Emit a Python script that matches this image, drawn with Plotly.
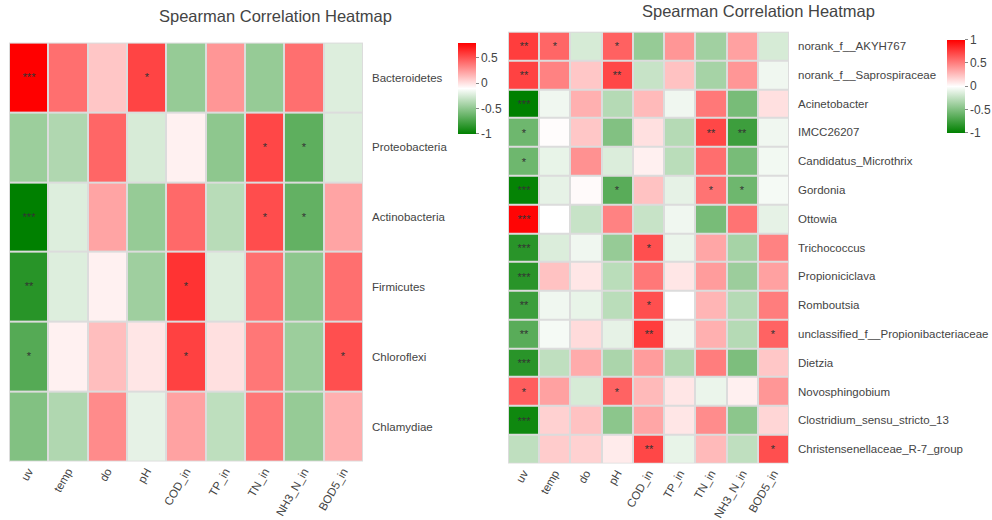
import plotly.graph_objects as go

# ---------------- data ----------------
factors = ["uv", "temp", "do", "pH", "COD_in", "TP_in", "TN_in", "NH3_N_in", "BOD5_in"]

phyla = ["Bacteroidetes", "Proteobacteria", "Actinobacteria", "Firmicutes", "Chloroflexi", "Chlamydiae"]
phyla_r = [
    [0.80, 0.41, 0.10, 0.56, -0.47, 0.27, -0.47, 0.41, -0.22],
    [-0.45, -0.38, 0.44, -0.24, -0.05, -0.50, 0.55, -0.67, -0.22],
    [-1.00, -0.22, 0.22, -0.47, 0.43, -0.35, 0.53, -0.65, 0.22],
    [-0.86, -0.22, -0.05, -0.44, 0.62, -0.22, 0.41, -0.50, 0.41],
    [-0.70, -0.05, 0.13, -0.01, 0.57, 0.01, 0.38, -0.45, 0.52],
    [-0.54, -0.38, 0.31, -0.19, 0.23, -0.33, 0.38, -0.47, 0.18],
]
phyla_sig = [
    ["***", "", "", "*", "", "", "", "", ""],
    ["", "", "", "", "", "", "*", "*", ""],
    ["***", "", "", "", "", "", "*", "*", ""],
    ["**", "", "", "", "*", "", "", "", ""],
    ["*", "", "", "", "*", "", "", "", "*"],
    ["", "", "", "", "", "", "", "", ""],
]

genera = ["norank_f__AKYH767", "norank_f__Saprospiraceae", "Acinetobacter", "IMCC26207",
          "Candidatus_Microthrix", "Gordonia", "Ottowia", "Trichococcus", "Propioniciclava",
          "Romboutsia", "unclassified_f__Propionibacteriaceae", "Dietzia", "Novosphingobium",
          "Clostridium_sensu_stricto_13", "Christensenellaceae_R-7_group"]
genera_r = [
    [0.76, 0.60, -0.16, 0.62, -0.41, 0.41, -0.37, 0.37, -0.16],
    [0.74, 0.49, 0.22, 0.72, -0.22, 0.24, -0.35, 0.41, -0.06],
    [-1.00, -0.06, 0.31, -0.29, 0.27, -0.06, 0.53, -0.53, 0.12],
    [-0.57, 0.01, 0.22, -0.49, 0.12, -0.29, 0.72, -0.76, -0.06],
    [-0.57, -0.09, 0.43, -0.14, 0.06, -0.27, 0.57, -0.53, -0.05],
    [-0.98, -0.10, 0.02, -0.65, 0.24, -0.10, 0.55, -0.57, -0.04],
    [0.98, 0.00, -0.22, 0.49, -0.22, -0.06, -0.53, 0.55, -0.10],
    [-0.84, -0.14, -0.06, -0.41, 0.69, -0.08, 0.35, -0.35, 0.49],
    [-0.84, 0.24, 0.10, -0.27, 0.53, 0.10, 0.39, -0.39, 0.37],
    [-0.76, -0.06, -0.09, -0.27, 0.69, 0.00, 0.29, -0.29, 0.51],
    [-0.65, -0.04, 0.14, -0.10, 0.76, -0.06, 0.31, -0.29, 0.61],
    [-0.84, -0.25, 0.33, -0.33, 0.39, -0.31, 0.51, -0.51, 0.22],
    [0.63, 0.37, -0.16, 0.61, 0.27, 0.10, -0.08, 0.06, 0.41],
    [-0.94, 0.18, 0.24, -0.45, 0.35, 0.10, 0.45, -0.45, 0.16],
    [-0.25, 0.20, 0.18, 0.08, 0.72, -0.09, 0.27, -0.25, 0.69],
]
genera_sig = [
    ["**", "*", "", "*", "", "", "", "", ""],
    ["**", "", "", "**", "", "", "", "", ""],
    ["***", "", "", "", "", "", "", "", ""],
    ["*", "", "", "", "", "", "**", "**", ""],
    ["*", "", "", "", "", "", "", "", ""],
    ["***", "", "", "*", "", "", "*", "*", ""],
    ["***", "", "", "", "", "", "", "", ""],
    ["***", "", "", "", "*", "", "", "", ""],
    ["***", "", "", "", "", "", "", "", ""],
    ["**", "", "", "", "*", "", "", "", ""],
    ["**", "", "", "", "**", "", "", "", "*"],
    ["***", "", "", "", "", "", "", "", ""],
    ["*", "", "", "*", "", "", "", "", ""],
    ["***", "", "", "", "", "", "", "", ""],
    ["", "", "", "", "**", "", "", "", "*"],
]

# ---------------- figure ----------------
W, H = 992, 520
scale = [[0.0, "rgb(0,128,0)"], [0.5, "rgb(255,255,255)"], [1.0, "rgb(255,0,0)"]]
font_family = "Liberation Sans, Arial, sans-serif"

def px_x(p):
    return p / W

def px_y(p):
    return 1 - p / H

fig = go.Figure()

fig.add_trace(go.Heatmap(
    z=phyla_r, x=factors, y=phyla, text=phyla_sig, texttemplate="%{text}",
    textfont=dict(size=11, color="#333"),
    colorscale=scale, zmin=-1, zmax=0.8, xgap=2, ygap=2,
    xaxis="x", yaxis="y",
    colorbar=dict(x=px_x(458), xanchor="left", y=px_y(43), yanchor="top",
                  lenmode="pixels", len=91, thickness=18, xpad=0, ypad=0,
                  outlinewidth=0, ticks="outside", ticklen=3, tickcolor="#888",
                  tickvals=[0.5, 0, -0.5, -1], ticktext=["0.5", "0", "-0.5", "-1"],
                  tickfont=dict(size=12, color="#444")),
))

fig.add_trace(go.Heatmap(
    z=genera_r, x=factors, y=genera, text=genera_sig, texttemplate="%{text}",
    textfont=dict(size=11, color="#333"),
    colorscale=scale, zmin=-1, zmax=1, xgap=2, ygap=2,
    xaxis="x2", yaxis="y2",
    colorbar=dict(x=px_x(947), xanchor="left", y=px_y(40), yanchor="top",
                  lenmode="pixels", len=93, thickness=18, xpad=0, ypad=0,
                  outlinewidth=0, ticks="outside", ticklen=3, tickcolor="#888",
                  tickvals=[1, 0.5, 0, -0.5, -1], ticktext=["1", "0.5", "0", "-0.5", "-1"],
                  tickfont=dict(size=12, color="#444")),
))

axis_common = dict(showgrid=False, zeroline=False, showline=False, ticks="")
fig.update_layout(
    width=W, height=H,
    margin=dict(l=0, r=0, t=0, b=0),
    paper_bgcolor="white", plot_bgcolor="#dcdcdc",
    font=dict(family=font_family, color="#444", size=12),
    showlegend=False,
    xaxis=dict(domain=[px_x(9), px_x(363)], anchor="y", tickangle=-60,
               tickfont=dict(size=11.5), **axis_common),
    yaxis=dict(domain=[px_y(466), px_y(43)], anchor="x", side="right",
               autorange="reversed", ticklabelstandoff=8,
               tickfont=dict(size=11.5), **axis_common),
    xaxis2=dict(domain=[px_x(508), px_x(789)], anchor="y2", tickangle=-60,
                tickfont=dict(size=11.5), **axis_common),
    yaxis2=dict(domain=[px_y(468), px_y(32)], anchor="x2", side="right",
                autorange="reversed", ticklabelstandoff=8,
                tickfont=dict(size=11.5), **axis_common),
    annotations=[
        dict(text="Spearman Correlation Heatmap", x=px_x(275), y=px_y(16),
             xref="paper", yref="paper", xanchor="center", yanchor="middle",
             showarrow=False, font=dict(size=16.5, color="#444")),
        dict(text="Spearman Correlation Heatmap", x=px_x(758), y=px_y(11),
             xref="paper", yref="paper", xanchor="center", yanchor="middle",
             showarrow=False, font=dict(size=16.5, color="#444")),
    ],
)

fig.write_html("out.html", config={"displayModeBar": False},
               post_script="document.body.style.margin='0px';")
